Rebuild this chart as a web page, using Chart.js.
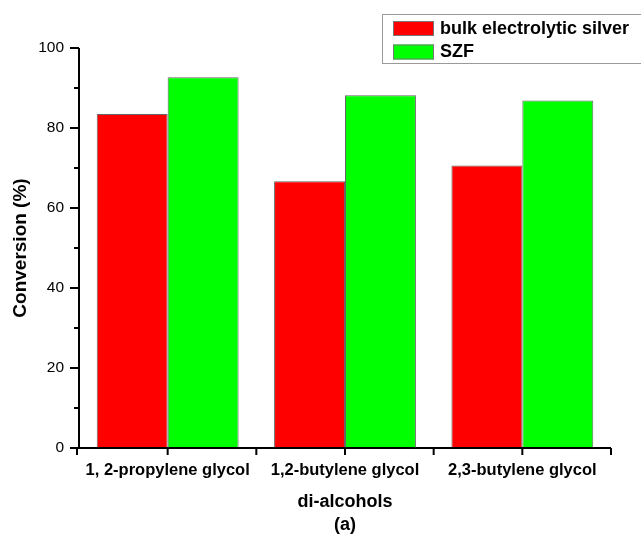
<!DOCTYPE html>
<html><head><meta charset="utf-8">
<script src="https://cdn.jsdelivr.net/npm/chart.js@4"></script>
<style>html,body{margin:0;padding:0;background:#fff}#wrap{width:641px;height:537px}</style>
</head><body><div id="wrap"><canvas id="c" width="641" height="537"></canvas></div>
<script>
const categories = ['1, 2-propylene glycol', '1,2-butylene glycol', '2,3-butylene glycol'];
const seriesNames = ['bulk electrolytic silver', 'SZF'];
const bulkSilver = [83.5, 66.7, 70.6];
const szf = [92.7, 88.2, 86.9];
const yTicks = [0, 20, 40, 60, 80, 100];
const yMinorTicks = [10, 30, 50, 70, 90];
const colors = ['#ff0000', '#00ff00'];
const FONT = '"Liberation Sans", Arial, sans-serif';

const axisPlugin = {
  id: 'axisTicks',
  afterDraw(chart) {
    const ctx = chart.ctx, x = chart.scales.x, y = chart.scales.y;
    const area = chart.chartArea;
    ctx.save();
    ctx.strokeStyle = '#000';
    ctx.lineWidth = 2;
    ctx.beginPath();
    ctx.moveTo(area.left, area.top); ctx.lineTo(area.left, area.bottom + 1);
    ctx.moveTo(area.left - 1, area.bottom); ctx.lineTo(area.right, area.bottom);
    yTicks.forEach(v => { const py = y.getPixelForValue(v); ctx.moveTo(area.left - 9, py); ctx.lineTo(area.left, py); });
    yMinorTicks.forEach(v => { const py = y.getPixelForValue(v); ctx.moveTo(area.left - 5, py); ctx.lineTo(area.left, py); });
    const half = (x.getPixelForValue(1) - x.getPixelForValue(0)) / 2;
    categories.forEach((c, i) => {
      const px = x.getPixelForValue(i);
      ctx.moveTo(px, area.bottom); ctx.lineTo(px, area.bottom + 7);
      const bx = i === 0 ? px - half - 2 : px - half;
      ctx.moveTo(bx, area.bottom); ctx.lineTo(bx, area.bottom + 7);
      if (i === categories.length - 1) { ctx.moveTo(px + half, area.bottom); ctx.lineTo(px + half, area.bottom + 7); }
    });
    ctx.stroke();

    // legend
    const ds = chart.data.datasets;
    ctx.lineWidth = 1;
    ctx.strokeStyle = '#9a9a9a';
    ctx.strokeRect(382.5, 14.5, 300, 49);
    ctx.font = 'bold 18px ' + FONT;
    ctx.textBaseline = 'middle';
    ctx.textAlign = 'left';
    ds.forEach((d, i) => {
      const top = 21 + i * 23.5;
      ctx.fillStyle = d.backgroundColor;
      ctx.fillRect(393, top, 41, 15);
      ctx.strokeStyle = '#777';
      ctx.strokeRect(393.5, top + 0.5, 40, 14);
      ctx.fillStyle = '#000';
      ctx.fillText(d.label, 440, top + 8);
    });
    ctx.restore();
  }
};

new Chart(document.getElementById('c'), {
  type: 'bar',
  data: {
    labels: categories,
    datasets: [
      { label: seriesNames[0], data: bulkSilver, backgroundColor: colors[0], borderColor: '#666', borderWidth: 1 },
      { label: seriesNames[1], data: szf, backgroundColor: colors[1], borderColor: '#666', borderWidth: 1 }
    ]
  },
  options: {
    responsive: false,
    animation: false,
    devicePixelRatio: 1,
    layout: { padding: { left: 0, top: 48, right: 30, bottom: 0 } },
    categoryPercentage: 0.8,
    barPercentage: 1.0,
    plugins: { legend: { display: false }, tooltip: { enabled: false } },
    scales: {
      x: {
        grid: { display: false },
        border: { display: false },
        ticks: { color: '#000', font: { family: FONT, size: 16.5, weight: 'bold' }, padding: 5, maxRotation: 0, autoSkip: false },
        title: { display: true, text: ['di-alcohols', '(a)'], color: '#000', font: { family: FONT, size: 18, weight: 'bold', lineHeight: 1.3 }, padding: { top: 8, bottom: 0 } },
        afterFit(s) { s.height = 89; }
      },
      y: {
        min: 0, max: 100,
        grid: { display: false },
        border: { display: false },
        ticks: {
          stepSize: 20, color: '#000', padding: 7,
          font: { family: FONT, size: 15.5 },
          callback: v => yTicks.includes(v) ? String(v) : ''
        },
        title: { display: true, text: 'Conversion (%)', color: '#000', font: { family: FONT, size: 19, weight: 'bold' }, padding: { top: 9, bottom: 0 } },
        afterFit(s) { s.width = 79; }
      }
    }
  },
  plugins: [axisPlugin]
});
</script>
</body></html>
